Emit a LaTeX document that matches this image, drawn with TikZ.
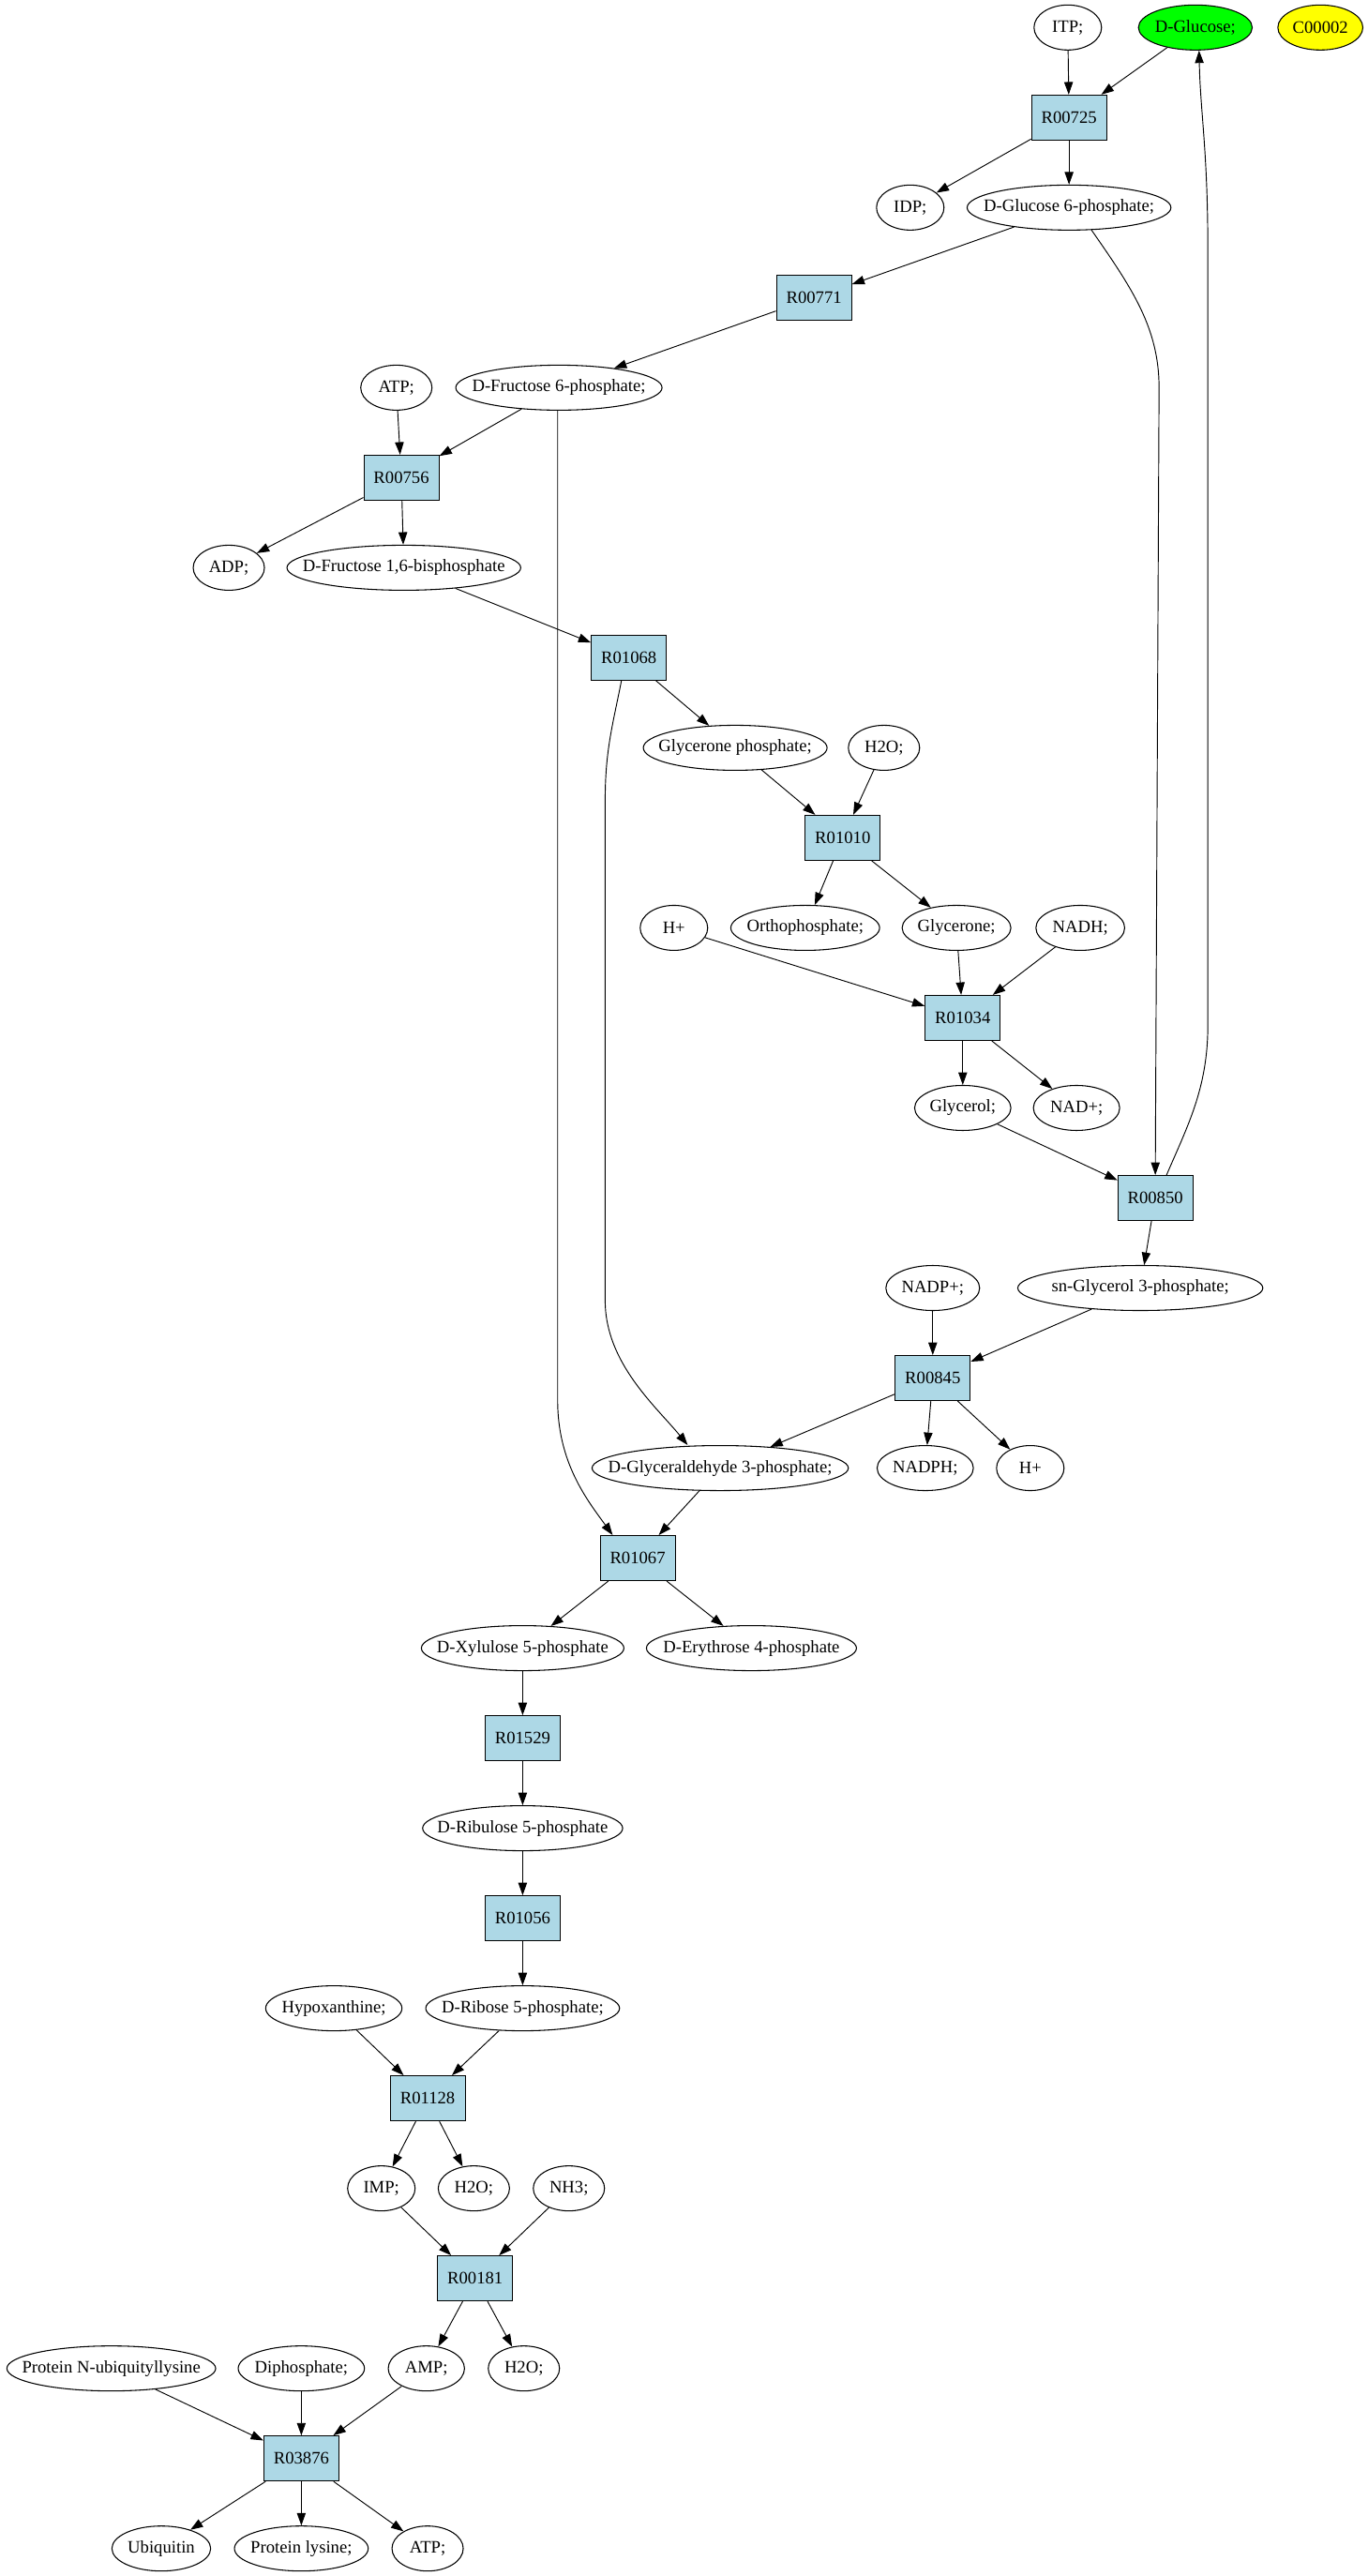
\documentclass[tikz,border=0pt]{standalone}
\usepackage{fontspec}
\setmainfont{Liberation Serif}
\usetikzlibrary{arrows.meta,shapes.geometric}
\definecolor{boxblue}{HTML}{ADD8E6}
\definecolor{glcgreen}{HTML}{00FF00}
\definecolor{cpdyellow}{HTML}{FFFF00}
\newcommand{\cpdlabel}[1]{\makebox[0pt]{#1}}
\tikzset{
  every node/.style={font=\fontsize{14pt}{16pt}\selectfont},
  cpd/.style={draw, ellipse, inner sep=0pt, minimum height=36pt, line width=0.8pt, minimum width=#1},
  cpd/.default=54pt,
  rxn/.style={draw, rectangle, fill=boxblue, minimum width=60pt, minimum height=36pt, inner sep=0pt, line width=0.8pt},
  arr/.style={-{Triangle[length=10pt,width=7pt]}, line width=0.7pt},
}
\begin{document}
\begin{tikzpicture}[x=1pt,y=-1pt]
\useasboundingbox (0,0) rectangle (1094,2060);
% row 0
\node[cpd=54pt] (itp) at (854,22) {\cpdlabel{ITP;}};
\node[cpd=91pt, fill=glcgreen] (dglc) at (956,22) {\cpdlabel{D-Glucose;}};
\node[cpd=68pt, fill=cpdyellow] (c00002) at (1056,22) {\cpdlabel{C00002}};
% row 1
\node[rxn] (r00725) at (855,94) {R00725};
% row 2
\node[cpd=54pt] (idp) at (728,166) {\cpdlabel{IDP;}};
\node[cpd=163pt] (dg6p) at (855,166) {\cpdlabel{D-Glucose 6-phosphate;}};
% row 3
\node[rxn] (r00771) at (651,238) {R00771};
% row 4
\node[cpd=57pt] (atpa) at (317,310) {\cpdlabel{ATP;}};
\node[cpd=165pt] (df6p) at (447,310) {\cpdlabel{D-Fructose 6-phosphate;}};
% row 5
\node[rxn] (r00756) at (321,382) {R00756};
% row 6
\node[cpd=57pt] (adp) at (183,454) {\cpdlabel{ADP;}};
\node[cpd=187pt] (df16bp) at (323,454) {\cpdlabel{D-Fructose 1,6-bisphosphate}};
% row 7
\node[rxn] (r01068) at (503,526) {R01068};
% row 8
\node[cpd=147pt] (gp) at (588,598) {\cpdlabel{Glycerone phosphate;}};
\node[cpd=57pt] (h2oa) at (707,598) {\cpdlabel{H2O;}};
% row 9
\node[rxn] (r01010) at (674,670) {R01010};
% row 10
\node[cpd=54pt] (hpa) at (539,742) {\cpdlabel{H+}};
\node[cpd=119pt] (orthop) at (644,742) {\cpdlabel{Orthophosphate;}};
\node[cpd=87pt] (glycerone) at (765,742) {\cpdlabel{Glycerone;}};
\node[cpd=71pt] (nadh) at (864,742) {\cpdlabel{NADH;}};
% row 11
\node[rxn] (r01034) at (770,814) {R01034};
% row 12
\node[cpd=77pt] (glycerol) at (770,886) {\cpdlabel{Glycerol;}};
\node[cpd=69pt] (nadplus) at (861,886) {\cpdlabel{NAD+;}};
% row 13
\node[rxn] (r00850) at (924,958) {R00850};
% row 14
\node[cpd=75pt] (nadpplus) at (746,1030) {\cpdlabel{NADP+;}};
\node[cpd=196pt] (sng3p) at (912,1030) {\cpdlabel{sn-Glycerol 3-phosphate;}};
% row 15
\node[rxn] (r00845) at (746,1102) {R00845};
% row 16
\node[cpd=205pt] (dga3p) at (576,1174) {\cpdlabel{D-Glyceraldehyde 3-phosphate;}};
\node[cpd=77pt] (nadph) at (740,1174) {\cpdlabel{NADPH;}};
\node[cpd=54pt] (hpb) at (824,1174) {\cpdlabel{H+}};
% row 17
\node[rxn] (r01067) at (510,1246) {R01067};
% row 18
\node[cpd=162pt] (dxu5p) at (418,1318) {\cpdlabel{D-Xylulose 5-phosphate}};
\node[cpd=168pt] (de4p) at (601,1318) {\cpdlabel{D-Erythrose 4-phosphate}};
% row 19
\node[rxn] (r01529) at (418,1390) {R01529};
% row 20
\node[cpd=160pt] (dru5p) at (418,1462) {\cpdlabel{D-Ribulose 5-phosphate}};
% row 21
\node[rxn] (r01056) at (418,1534) {R01056};
% row 22
\node[cpd=109pt] (hypox) at (267,1606) {\cpdlabel{Hypoxanthine;}};
\node[cpd=155pt] (dr5p) at (418,1606) {\cpdlabel{D-Ribose 5-phosphate;}};
% row 23
\node[rxn] (r01128) at (342,1678) {R01128};
% row 24
\node[cpd=54pt] (imp) at (305,1750) {\cpdlabel{IMP;}};
\node[cpd=57pt] (h2ob) at (379,1750) {\cpdlabel{H2O;}};
\node[cpd=57pt] (nh3) at (455,1750) {\cpdlabel{NH3;}};
% row 25
\node[rxn] (r00181) at (380,1822) {R00181};
% row 26
\node[cpd=167pt] (pnub) at (89,1894) {\cpdlabel{Protein N-ubiquityllysine}};
\node[cpd=101pt] (diph) at (241,1894) {\cpdlabel{Diphosphate;}};
\node[cpd=61pt] (amp) at (341,1894) {\cpdlabel{AMP;}};
\node[cpd=57pt] (h2oc) at (419,1894) {\cpdlabel{H2O;}};
% row 27
\node[rxn] (r03876) at (241,1966) {R03876};
% row 28
\node[cpd=79pt] (ubq) at (129,2038) {\cpdlabel{Ubiquitin}};
\node[cpd=107pt] (plys) at (241,2038) {\cpdlabel{Protein lysine;}};
\node[cpd=57pt] (atpb) at (342,2038) {\cpdlabel{ATP;}};

% edges
\draw[arr] (itp) -- (r00725);
\draw[arr] (dglc) -- (r00725);
\draw[arr] (r00725) -- (idp);
\draw[arr] (r00725) -- (dg6p);
\draw[arr] (dg6p) -- (r00771);
\draw[arr] (dg6p.-45) .. controls (905,230) and (927,262) .. (927,310) -- (r00850.north);
\draw[arr] ([xshift=9pt]r00850.north) .. controls (950,900) and (966,870) .. (966,820) -- (966,200) .. controls (966,120) and (960,90) .. ([xshift=3pt]dglc.south);
\draw[arr] (r00771) -- (df6p);
\draw[arr] (atpa) -- (r00756);
\draw[arr] (df6p) -- (r00756);
\draw[arr] ([xshift=-1pt]df6p.south) -- (446,1120) .. controls (446,1170) and (470,1200) .. ([xshift=-20pt]r01067.north);
\draw[arr] (r00756) -- (adp);
\draw[arr] (r00756) -- (df16bp);
\draw[arr] (df16bp) -- (r01068);
\draw[arr] (r01068) -- (gp);
\draw[arr] ([xshift=-6pt]r01068.south) .. controls (490,580) and (484,600) .. (484,640) -- (484,1040) .. controls (484,1090) and (525,1125) .. ([xshift=-26pt]dga3p.north);
\draw[arr] (gp) -- (r01010);
\draw[arr] (h2oa) -- (r01010);
\draw[arr] (r01010) -- (orthop);
\draw[arr] (r01010) -- (glycerone);
\draw[arr] (hpa) -- (r01034);
\draw[arr] (glycerone) -- (r01034);
\draw[arr] (nadh) -- (r01034);
\draw[arr] (r01034) -- (glycerol);
\draw[arr] (r01034) -- (nadplus);
\draw[arr] (glycerol) -- (r00850);
\draw[arr] (r00850) -- (sng3p);
\draw[arr] (nadpplus) -- (r00845);
\draw[arr] (sng3p) -- (r00845);
\draw[arr] (r00845) -- (dga3p);
\draw[arr] (r00845) -- (nadph);
\draw[arr] (r00845) -- (hpb);
\draw[arr] (dga3p) -- (r01067);
\draw[arr] (r01067) -- (dxu5p);
\draw[arr] (r01067) -- (de4p);
\draw[arr] (dxu5p) -- (r01529);
\draw[arr] (r01529) -- (dru5p);
\draw[arr] (dru5p) -- (r01056);
\draw[arr] (r01056) -- (dr5p);
\draw[arr] (hypox) -- (r01128);
\draw[arr] (dr5p) -- (r01128);
\draw[arr] (r01128) -- (imp);
\draw[arr] (r01128) -- (h2ob);
\draw[arr] (imp) -- (r00181);
\draw[arr] (nh3) -- (r00181);
\draw[arr] (r00181) -- (amp);
\draw[arr] (r00181) -- (h2oc);
\draw[arr] (pnub) -- (r03876);
\draw[arr] (diph) -- (r03876);
\draw[arr] (amp) -- (r03876);
\draw[arr] (r03876) -- (ubq);
\draw[arr] (r03876) -- (plys);
\draw[arr] (r03876) -- (atpb);
\end{tikzpicture}
\end{document}
